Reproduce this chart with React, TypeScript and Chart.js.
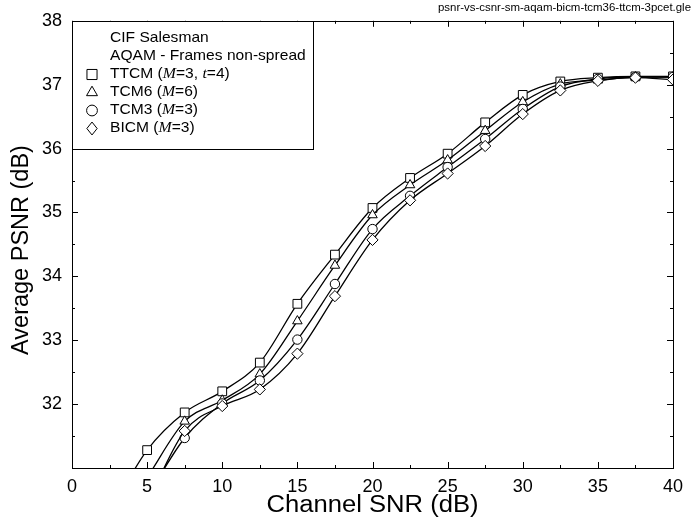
import React, { useEffect, useRef } from 'react';
import { Chart, registerables } from 'chart.js';

Chart.register(...registerables);

// ---- Data ----
const SNR = [2.5, 5, 7.5, 10, 12.5, 15, 17.5, 20, 22.5, 25, 27.5, 30, 32.5, 35, 37.5, 40];
const TTCM = [30.3, 31.28, 31.87, 32.2, 32.65, 33.57, 34.34, 35.07, 35.54, 35.92, 36.41, 36.84, 37.05, 37.11, 37.13, 37.13];
const TCM6 = [null, 30.85, 31.73, 32.06, 32.47, 33.3, 34.17, 34.96, 35.43, 35.82, 36.28, 36.73, 37.01, 37.07, 37.12, 37.12];
const TCM3 = [null, 30.55, 31.47, 32.01, 32.37, 33.01, 33.88, 34.74, 35.26, 35.71, 36.15, 36.62, 36.97, 37.09, 37.12, 37.12];
const BICM = [null, 30.45, 31.58, 31.97, 32.23, 32.79, 33.69, 34.57, 35.19, 35.61, 36.04, 36.54, 36.91, 37.06, 37.11, 37.08];

const X_MIN = 0;
const X_MAX = 40;
const X_STEP = 5;
const X_MINOR = 2.5;
const Y_MIN = 31;
const Y_MAX = 38;
const Y_STEP = 1;
const Y_MINOR = 0.5;

const X_TITLE = 'Channel SNR (dB)';
const Y_TITLE = 'Average PSNR (dB)';
const FILE_LABEL = 'psnr-vs-csnr-sm-aqam-bicm-tcm36-ttcm-3pcet.gle';
const LEGEND_HEADER = ['CIF Salesman', 'AQAM - Frames non-spread'];

type Seg = { t: string; it?: boolean };
const LEGEND_ITEMS: { style: string; label: Seg[] }[] = [
  { style: 'rect', label: [{ t: 'TTCM (' }, { t: 'M', it: true }, { t: '=3, ' }, { t: 't', it: true }, { t: '=4)' }] },
  { style: 'triangle', label: [{ t: 'TCM6 (' }, { t: 'M', it: true }, { t: '=6)' }] },
  { style: 'circle', label: [{ t: 'TCM3 (' }, { t: 'M', it: true }, { t: '=3)' }] },
  { style: 'rectRot', label: [{ t: 'BICM (' }, { t: 'M', it: true }, { t: '=3)' }] },
];

const SANS = '"Liberation Sans", Arial, Helvetica, sans-serif';
const SERIF = '"Liberation Serif", "Times New Roman", serif';
const HSTRETCH = 1.09;

const RADII: Record<string, number> = { rect: 6.2, triangle: 5.5, circle: 4.7, rectRot: 5.6 };

function toPoints(ys: (number | null)[]) {
  const out: { x: number; y: number }[] = [];
  SNR.forEach((x, i) => {
    const y = ys[i];
    if (y !== null && y !== undefined) out.push({ x, y });
  });
  return out;
}

function drawMarker(ctx: CanvasRenderingContext2D, style: string, x: number, y: number, k: number) {
  const r = RADII[style] * k;
  ctx.beginPath();
  if (style === 'rect') {
    const s = Math.SQRT1_2 * r;
    ctx.rect(x - s, y - s, 2 * s, 2 * s);
  } else if (style === 'triangle') {
    let a = 0;
    ctx.moveTo(x + Math.sin(a) * r, y - Math.cos(a) * r);
    a += (2 * Math.PI) / 3;
    ctx.lineTo(x + Math.sin(a) * r, y - Math.cos(a) * r);
    a += (2 * Math.PI) / 3;
    ctx.lineTo(x + Math.sin(a) * r, y - Math.cos(a) * r);
    ctx.closePath();
  } else if (style === 'circle') {
    ctx.arc(x, y, r, 0, Math.PI * 2);
  } else {
    ctx.moveTo(x - r * 0.8, y);
    ctx.lineTo(x, y - r);
    ctx.lineTo(x + r * 0.8, y);
    ctx.lineTo(x, y + r);
    ctx.closePath();
  }
  ctx.fillStyle = '#fff';
  ctx.fill();
  ctx.strokeStyle = '#000';
  ctx.lineWidth = 1;
  ctx.stroke();
}

function stretchedText(ctx: CanvasRenderingContext2D, text: string, x: number, y: number) {
  ctx.save();
  ctx.translate(x, y);
  ctx.scale(HSTRETCH, 1);
  ctx.fillText(text, 0, 0);
  ctx.restore();
  return ctx.measureText(text).width * HSTRETCH;
}

const decorPlugin = {
  id: 'decor',
  afterDatasetsDraw(chart: any) {
    const ctx: CanvasRenderingContext2D = chart.ctx;
    const { left, right, top, bottom } = chart.chartArea;
    const xs = chart.scales.x;
    const ys = chart.scales.y;
    ctx.save();
    ctx.strokeStyle = '#000';
    ctx.lineWidth = 1;
    // ticks inward on all four sides
    ctx.beginPath();
    for (let v = X_MIN; v <= X_MAX + 1e-9; v += X_MINOR) {
      const px = Math.round(xs.getPixelForValue(v)) + 0.5;
      const major = Math.abs(v / X_STEP - Math.round(v / X_STEP)) < 1e-6;
      const len = major ? 6 : 3;
      ctx.moveTo(px, bottom);
      ctx.lineTo(px, bottom - len);
      ctx.moveTo(px, top);
      ctx.lineTo(px, top + len);
    }
    for (let v = Y_MIN; v <= Y_MAX + 1e-9; v += Y_MINOR) {
      const py = Math.round(ys.getPixelForValue(v)) + 0.5;
      const major = Math.abs(v / Y_STEP - Math.round(v / Y_STEP)) < 1e-6;
      const len = major ? 6 : 3;
      ctx.moveTo(left, py);
      ctx.lineTo(left + len, py);
      ctx.moveTo(right, py);
      ctx.lineTo(right - len, py);
    }
    ctx.stroke();
    // frame
    ctx.strokeRect(Math.round(left) + 0.5, Math.round(top) + 0.5, Math.round(right - left), Math.round(bottom - top));

    // legend box
    const bx = Math.round(left) + 0.5;
    const by = Math.round(top) + 0.5;
    const bw = 241;
    const bh = 128;
    ctx.fillStyle = '#fff';
    ctx.fillRect(bx, by, bw, bh);
    ctx.strokeRect(bx, by, bw, bh);

    ctx.fillStyle = '#000';
    ctx.textBaseline = 'middle';
    ctx.textAlign = 'left';
    const textX = left + 38;
    const markX = left + 20;
    const rowY = [38.5, 56.5, 74.5, 92.5, 110.5, 128.5];
    ctx.font = `14.3px ${SANS}`;
    LEGEND_HEADER.forEach((t, i) => stretchedText(ctx, t, textX, rowY[i]));
    LEGEND_ITEMS.forEach((item, i) => {
      const y = rowY[i + 2];
      drawMarker(ctx, item.style, markX, y, 1.15);
      let cx = textX;
      ctx.fillStyle = '#000';
      item.label.forEach((seg) => {
        ctx.font = seg.it ? `italic 14.5px ${SERIF}` : `14.3px ${SANS}`;
        cx += stretchedText(ctx, seg.t, cx, y);
      });
    });

    // axis titles
    ctx.font = `23.5px ${SANS}`;
    ctx.textAlign = 'center';
    ctx.textBaseline = 'middle';
    stretchedText(ctx, X_TITLE, (left + right) / 2, 506);
    ctx.save();
    ctx.translate(22, 250);
    ctx.rotate(-Math.PI / 2);
    ctx.fillText(Y_TITLE, 0, 0);
    ctx.restore();

    // file label
    ctx.font = `11px ${SANS}`;
    ctx.textAlign = 'right';
    ctx.save();
    ctx.translate(691, 8);
    ctx.scale(1.04, 1);
    ctx.fillText(FILE_LABEL, 0, 0);
    ctx.restore();
    ctx.restore();
  },
};

function makeDataset(label: string, ys: (number | null)[], style: string) {
  return {
    label,
    data: toPoints(ys),
    borderColor: '#000',
    borderWidth: 1.3,
    backgroundColor: '#fff',
    pointStyle: style,
    pointRadius: RADII[style],
    pointBorderWidth: 1,
    pointBorderColor: '#000',
    pointBackgroundColor: '#fff',
    cubicInterpolationMode: 'monotone' as const,
    fill: false,
    clip: 0,
  };
}

export default function App() {
  const ref = useRef<HTMLCanvasElement | null>(null);
  useEffect(() => {
    if (!ref.current) return;
    const chart = new Chart(ref.current, {
      type: 'scatter',
      data: {
        datasets: [
          makeDataset('BICM', BICM, 'rectRot'),
          makeDataset('TCM3', TCM3, 'circle'),
          makeDataset('TCM6', TCM6, 'triangle'),
          makeDataset('TTCM', TTCM, 'rect'),
        ] as any,
      },
      options: {
        responsive: false,
        animation: false,
        devicePixelRatio: 1,
        showLine: true,
        layout: { padding: { left: 0, top: 18, right: 27, bottom: 0 } },
        plugins: { legend: { display: false }, tooltip: { enabled: false }, title: { display: false } },
        scales: {
          x: {
            type: 'linear',
            min: X_MIN,
            max: X_MAX,
            grid: { display: false, drawTicks: false },
            border: { display: false },
            ticks: { stepSize: X_STEP, color: '#000', font: { family: SANS, size: 18 }, padding: 8, maxRotation: 0 },
            afterFit: (s: any) => { s.height = 54; },
          },
          y: {
            type: 'linear',
            min: Y_MIN,
            max: Y_MAX,
            grid: { display: false, drawTicks: false },
            border: { display: false },
            ticks: {
              stepSize: Y_STEP,
              color: '#000',
              font: { family: SANS, size: 18 },
              padding: 10,
              callback: (v: any) => (v === Y_MIN ? '' : String(v)),
            },
            afterFit: (s: any) => { s.width = 72; },
          },
        },
      } as any,
      plugins: [decorPlugin],
    });
    return () => chart.destroy();
  }, []);
  return (
    <div style={{ position: 'fixed', left: 0, top: 0, width: 700, height: 522, background: '#fff' }}>
      <canvas ref={ref} width={700} height={522} style={{ display: 'block' }} />
    </div>
  );
}
